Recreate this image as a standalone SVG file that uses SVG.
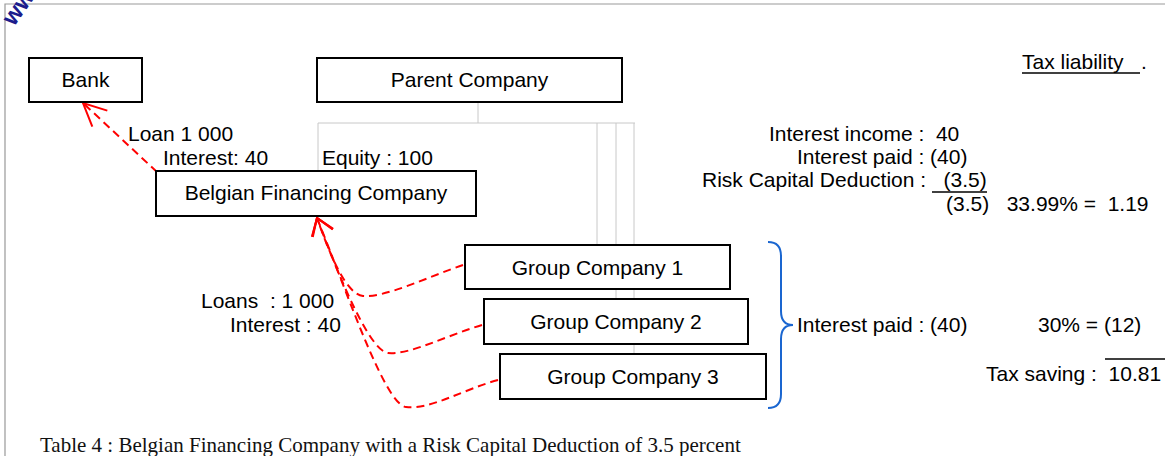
<svg xmlns="http://www.w3.org/2000/svg" width="1165" height="456" viewBox="0 0 1165 456">
  <style>
    .box { fill: #ffffff; stroke: #000000; stroke-width: 2; }
    .lbl { font-family: "Liberation Sans", Arial, sans-serif; font-size: 21px; fill: #000000; white-space: pre; }
    .mid { text-anchor: middle; }
    .end { text-anchor: end; }
    .cap { font-family: "Liberation Serif", "Times New Roman", serif; font-size: 21px; fill: #111111; }
    .org { fill: none; stroke: #c8c8c8; stroke-width: 1; }
    .flow { fill: none; stroke: #ff0000; stroke-width: 2; stroke-dasharray: 8 5; }
    .rule { stroke: #000000; stroke-width: 1.3; }
  </style>
  <defs>
    <marker id="headBank" markerUnits="userSpaceOnUse" orient="auto" markerWidth="40" markerHeight="40" refX="0" refY="0" viewBox="-30 -20 40 40" overflow="visible">
      <path d="M -23,-11 L 0,0 L -23,11" fill="none" stroke="#ff0000" stroke-width="2"/>
    </marker>
    <marker id="headFin" markerUnits="userSpaceOnUse" orient="auto" markerWidth="40" markerHeight="40" refX="0" refY="0" viewBox="-30 -20 40 40" overflow="visible">
      <path d="M -16,-11 L 0,0 L -16,11" fill="none" stroke="#ff0000" stroke-width="2"/>
    </marker>
  </defs>

  <rect width="1165" height="456" fill="#ffffff"/>

  <!-- page frame -->
  <path d="M 5,456 L 5,4 L 1165,4" fill="none" stroke="#999999" stroke-width="1.2"/>
  <text x="14" y="27" transform="rotate(-55 14 27)" font-family="Liberation Sans, Arial, sans-serif" font-size="24" font-weight="bold" fill="#1c1c8c">www</text>

  <!-- ownership lines and money flows -->
  <g id="connectors">
    <path class="org" d="M 478,102 V 123 M 318,123 H 635 M 318,123 V 171 M 597,123 V 245 M 616,123 V 298 M 634,123 V 354"/>
    <path class="flow" d="M 157,172 L 83,103" marker-end="url(#headBank)"/>
    <path class="flow" d="M 463,265 C 430,276 385,298 363,296 C 346,294 330,255 317,218" marker-end="url(#headFin)"/>
    <path class="flow" d="M 482,325 C 445,336 410,355 388,353 C 370,351 340,280 317,218" marker-end="url(#headFin)"/>
    <path class="flow" d="M 498,380 C 462,390 430,410 406,407 C 385,404 350,300 317,218" marker-end="url(#headFin)"/>
    <path d="M 768,242 Q 781,242 781,256 L 781,311 Q 781,325 793,325 Q 781,325 781,339 L 781,394 Q 781,408 768,408" fill="none" stroke="#1a66d0" stroke-width="2"/>
  </g>

  <g id="bank">
    <rect class="box" x="29" y="58" width="113" height="44"/>
    <text class="lbl mid" x="85.5" y="87">Bank</text>
  </g>
  <g id="parent-company">
    <rect class="box" x="317" y="58" width="305" height="44"/>
    <text class="lbl mid" x="469.5" y="87">Parent Company</text>
  </g>
  <g id="belgian-financing-company">
    <rect class="box" x="156" y="171" width="320" height="45"/>
    <text class="lbl mid" x="316" y="200">Belgian Financing Company</text>
  </g>
  <g id="group-company-1">
    <rect class="box" x="465" y="245" width="265" height="44"/>
    <text class="lbl mid" x="597.5" y="275">Group Company 1</text>
  </g>
  <g id="group-company-2">
    <rect class="box" x="484" y="299" width="264" height="45"/>
    <text class="lbl mid" x="616" y="329">Group Company 2</text>
  </g>
  <g id="group-company-3">
    <rect class="box" x="500" y="354" width="266" height="45"/>
    <text class="lbl mid" x="633" y="384">Group Company 3</text>
  </g>

  <!-- flow labels -->
  <g id="flow-labels">
    <text class="lbl" x="128" y="141">Loan 1 000</text>
    <text class="lbl" x="163" y="165">Interest: 40</text>
    <text class="lbl" x="322" y="165">Equity : 100</text>
    <text class="lbl" x="201" y="308">Loans  : 1 000</text>
    <text class="lbl" x="230" y="332">Interest : 40</text>
  </g>

  <!-- tax computation -->
  <g id="tax-table">
    <text class="lbl" x="1022" y="69">Tax liability   .</text>
    <line class="rule" x1="1022" y1="73" x2="1140" y2="73"/>
    <text class="lbl" x="769" y="141">Interest income :  40</text>
    <text class="lbl" x="797" y="164">Interest paid : (40)</text>
    <text class="lbl" x="702" y="187">Risk Capital Deduction :   (3.5)</text>
    <line class="rule" x1="932" y1="192" x2="987" y2="192"/>
    <text class="lbl" x="946" y="211">(3.5)   33.99% =  1.19</text>
    <text class="lbl" x="797" y="332">Interest paid : (40)</text>
    <text class="lbl" x="1038" y="332">30% = (12)</text>
    <text class="lbl" x="986" y="381">Tax saving :  10.81</text>
    <line class="rule" x1="1105" y1="359" x2="1165" y2="359"/>
  </g>

  <text class="cap" x="40" y="452">Table 4 : Belgian Financing Company with a Risk Capital Deduction of 3.5 percent</text>
</svg>
